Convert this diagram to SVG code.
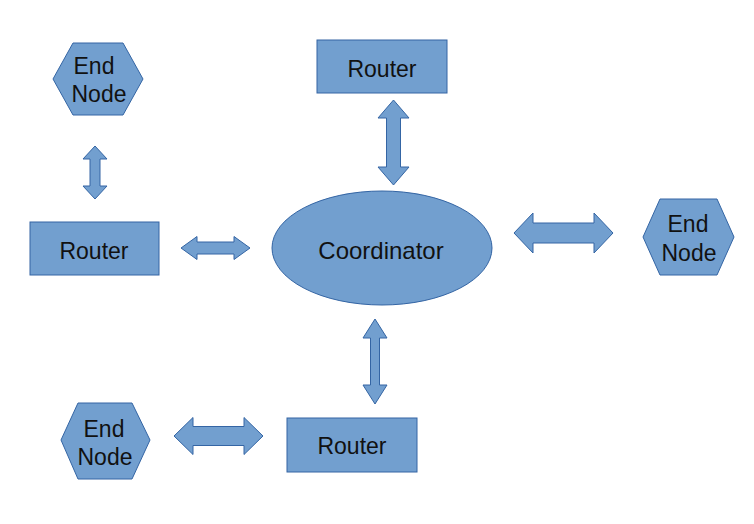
<svg xmlns="http://www.w3.org/2000/svg" width="754" height="524" viewBox="0 0 754 524">
<style>
.shape{fill:#729fcf;stroke:#3465a4;stroke-width:1}
.arrow{fill:#729fcf;stroke:#3465a4;stroke-width:1}
.lbl{font-family:"Liberation Sans",Arial,sans-serif;fill:#111;font-size:23px;text-anchor:middle}
</style>
<rect width="754" height="524" fill="#fff"/>
<g id="connectors">
<polygon class="arrow" points="181,248 197,236.5 197,242 234,242 234,236.5 250,248 234,259.5 234,254 197,254 197,259.5"/>
<polygon class="arrow" points="514,233 533,213 533,223 594,223 594,213 613,233 594,253 594,243 533,243 533,253"/>
<polygon class="arrow" points="174,436 193,417.5 193,426.5 244,426.5 244,417.5 263,436 244,454.5 244,445.5 193,445.5 193,454.5"/>
<polygon class="arrow" points="393.5,100 409,118 400.5,118 400.5,167 409,167 393.5,185 378,167 386.5,167 386.5,118 378,118"/>
<polygon class="arrow" points="95,146 107,159 100,159 100,186 107,186 95,199 83,186 90,186 90,159 83,159"/>
<polygon class="arrow" points="375,319 387,338 379.5,338 379.5,385 387,385 375,404 363,385 370.5,385 370.5,338 363,338"/>
</g>
<g id="endnode-topleft">
<polygon class="shape" points="53,79 73,43 123,43 143,79 123,115 73,115"/>
<text class="lbl" x="94" y="74">End</text>
<text class="lbl" x="99" y="102">Node</text>
</g>
<g id="router-top">
<rect class="shape" x="317" y="40" width="130" height="53"/>
<text class="lbl" x="382" y="77">Router</text>
</g>
<g id="router-left">
<rect class="shape" x="30" y="222" width="129" height="53"/>
<text class="lbl" x="94" y="259">Router</text>
</g>
<g id="coordinator">
<ellipse class="shape" cx="382" cy="248" rx="110" ry="57"/>
<text class="lbl" x="381" y="259" style="font-size:24px">Coordinator</text>
</g>
<g id="endnode-right">
<polygon class="shape" points="643,237 660,199 717,199 734,237 717,275 660,275"/>
<text class="lbl" x="688" y="232">End</text>
<text class="lbl" x="689" y="261">Node</text>
</g>
<g id="endnode-bottomleft">
<polygon class="shape" points="61,440 78,403 132,403 150,440 132,479 78,479"/>
<text class="lbl" x="104" y="437">End</text>
<text class="lbl" x="105" y="465">Node</text>
</g>
<g id="router-bottom">
<rect class="shape" x="287" y="418" width="130" height="54"/>
<text class="lbl" x="352" y="454">Router</text>
</g>
</svg>
